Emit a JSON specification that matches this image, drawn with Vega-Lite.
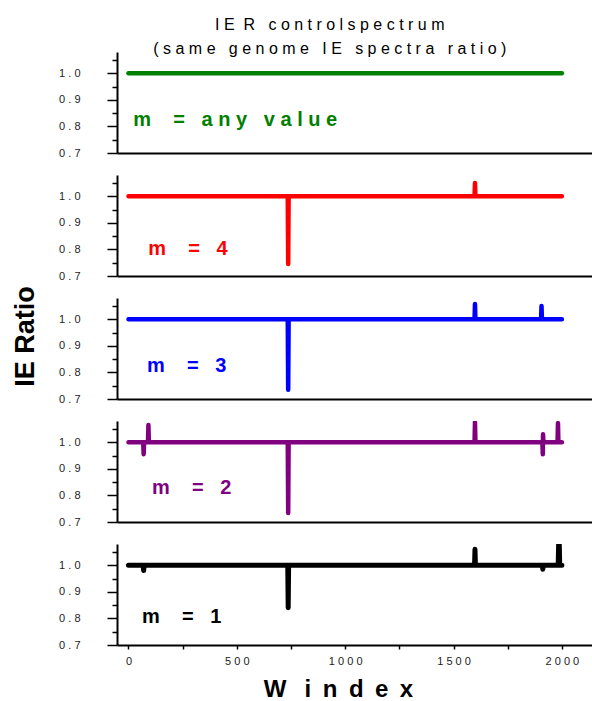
{
  "$schema": "https://vega.github.io/schema/vega-lite/v6.json",
  "padding": {"left": 11, "top": 17, "right": 0, "bottom": 0},
  "title": {
    "text": ["I E \u00a0R \u00a0\u00a0c o n t r o l s p e c t r u m\u00a0\u00a0\u00a0\u00a0", "( s a m e \u00a0\u00a0g e n o m e \u00a0\u00a0I E \u00a0\u00a0s p e c t r a \u00a0\u00a0r a t i o )"],
    "font": "Liberation Sans", "fontSize": 16, "fontWeight": "normal", "color": "black",
    "anchor": "middle", "lineHeight": 24, "offset": -5, "dx": 28
  },
  "bounds": "flush",
  "spacing": 22,
  "datasets": {
    "lines": [
      {"p": "g", "x": 0, "y": 1}, {"p": "g", "x": 2000, "y": 1},
      {"p": "r", "x": 0, "y": 1}, {"p": "r", "x": 735, "y": 1}, {"p": "r", "x": 737, "y": 0.745}, {"p": "r", "x": 739, "y": 1},
      {"p": "r", "x": 1597, "y": 1}, {"p": "r", "x": 1599, "y": 1.05}, {"p": "r", "x": 1601, "y": 1}, {"p": "r", "x": 2000, "y": 1},
      {"p": "b", "x": 0, "y": 1}, {"p": "b", "x": 735, "y": 1}, {"p": "b", "x": 737, "y": 0.735}, {"p": "b", "x": 739, "y": 1},
      {"p": "b", "x": 1597, "y": 1}, {"p": "b", "x": 1599, "y": 1.057}, {"p": "b", "x": 1601, "y": 1},
      {"p": "b", "x": 1904, "y": 1}, {"p": "b", "x": 1906, "y": 1.05}, {"p": "b", "x": 1908, "y": 1}, {"p": "b", "x": 2000, "y": 1},
      {"p": "p", "x": 0, "y": 1}, {"p": "p", "x": 68, "y": 1}, {"p": "p", "x": 70, "y": 0.955}, {"p": "p", "x": 72, "y": 1},
      {"p": "p", "x": 90, "y": 1}, {"p": "p", "x": 92, "y": 1.065}, {"p": "p", "x": 94, "y": 1},
      {"p": "p", "x": 735, "y": 1}, {"p": "p", "x": 737, "y": 0.734}, {"p": "p", "x": 739, "y": 1},
      {"p": "p", "x": 1597, "y": 1}, {"p": "p", "x": 1599, "y": 1.076}, {"p": "p", "x": 1601, "y": 1},
      {"p": "p", "x": 1910, "y": 1}, {"p": "p", "x": 1912, "y": 0.955}, {"p": "p", "x": 1913, "y": 1.03}, {"p": "p", "x": 1915, "y": 1},
      {"p": "p", "x": 1980, "y": 1}, {"p": "p", "x": 1982, "y": 1.072}, {"p": "p", "x": 1984, "y": 1}, {"p": "p", "x": 2000, "y": 1},
      {"p": "k", "x": 0, "y": 1}, {"p": "k", "x": 68, "y": 1}, {"p": "k", "x": 70, "y": 0.98}, {"p": "k", "x": 72, "y": 1},
      {"p": "k", "x": 735, "y": 1}, {"p": "k", "x": 737, "y": 0.84}, {"p": "k", "x": 739, "y": 1},
      {"p": "k", "x": 1597, "y": 1}, {"p": "k", "x": 1599, "y": 1.06}, {"p": "k", "x": 1601, "y": 1},
      {"p": "k", "x": 1910, "y": 1}, {"p": "k", "x": 1912, "y": 0.985}, {"p": "k", "x": 1914, "y": 1},
      {"p": "k", "x": 1983, "y": 1}, {"p": "k", "x": 1985, "y": 1.078}, {"p": "k", "x": 1987, "y": 1},
      {"p": "k", "x": 1988, "y": 1.078}, {"p": "k", "x": 1990, "y": 1}, {"p": "k", "x": 2000, "y": 1}
    ],
    "labels": [
      {"p": "g", "x": 22, "y": 0.824, "label": "m\u00a0\u00a0\u00a0\u00a0=\u00a0\u00a0\u00a0a n y\u00a0\u00a0\u00a0v a l u e"},
      {"p": "r", "x": 91, "y": 0.802, "label": "m\u00a0\u00a0\u00a0\u00a0=\u00a0\u00a0\u00a04"},
      {"p": "b", "x": 85, "y": 0.824, "label": "m\u00a0\u00a0\u00a0\u00a0=\u00a0\u00a0\u00a03"},
      {"p": "p", "x": 108, "y": 0.828, "label": "m\u00a0\u00a0\u00a0\u00a0=\u00a0\u00a0\u00a02"},
      {"p": "k", "x": 62, "y": 0.805, "label": "m\u00a0\u00a0\u00a0\u00a0=\u00a0\u00a0\u00a01"}
    ]
  },
  "config": {
    "view": {"stroke": null},
    "axis": {"grid": false, "domainColor": "black", "domainWidth": 2, "tickColor": "black", "tickWidth": 1.5,
      "labelFont": "Liberation Sans", "labelFontSize": 11, "labelColor": "#222"},
    "text": {"font": "Liberation Sans", "fontSize": 20, "fontWeight": "bold", "align": "left", "baseline": "middle"}
  },
  "vconcat": [
    {
      "width": 475, "height": 101,
      "encoding": {
        "x": {"field": "x", "type": "quantitative", "scale": {"domain": [-53, 2139], "nice": false, "zero": false},
          "axis": {"title": null, "labels": false, "ticks": false}},
        "y": {"field": "y", "type": "quantitative", "scale": {"domain": [0.7, 1.08], "nice": false, "zero": false},
          "axis": {"title": null, "values": [0.7, 0.75, 0.8, 0.85, 0.9, 0.95, 1.0, 1.05],
            "tickSize": {"condition": {"test": "round(datum.value*100) % 10 == 0", "value": 10}, "value": 5},
            "labelPadding": 27,
            "labelExpr": "round(datum.value*100) % 10 == 0 && datum.value < 1.01 ? replace(format(datum.value, '.1f'), '.', '\u00a0.\u00a0') : ''"}}
      },
      "layer": [
        {"data": {"name": "lines"}, "transform": [{"filter": "datum.p == 'g'"}],
          "mark": {"type": "line", "color": "#008000", "strokeWidth": 4.5, "strokeCap": "round", "strokeJoin": "round", "clip": true}},
        {"data": {"name": "labels"}, "transform": [{"filter": "datum.p == 'g'"}],
          "mark": {"type": "text", "color": "#008000"}, "encoding": {"text": {"field": "label"}}}
      ]
    },
    {
      "width": 475, "height": 101,
      "encoding": {
        "x": {"field": "x", "type": "quantitative", "scale": {"domain": [-53, 2139], "nice": false, "zero": false},
          "axis": {"title": null, "labels": false, "ticks": false}},
        "y": {"field": "y", "type": "quantitative", "scale": {"domain": [0.7, 1.08], "nice": false, "zero": false},
          "axis": {"title": null, "values": [0.7, 0.75, 0.8, 0.85, 0.9, 0.95, 1.0, 1.05],
            "tickSize": {"condition": {"test": "round(datum.value*100) % 10 == 0", "value": 10}, "value": 5},
            "labelPadding": 27,
            "labelExpr": "round(datum.value*100) % 10 == 0 && datum.value < 1.01 ? replace(format(datum.value, '.1f'), '.', '\u00a0.\u00a0') : ''"}}
      },
      "layer": [
        {"data": {"name": "lines"}, "transform": [{"filter": "datum.p == 'r'"}],
          "mark": {"type": "line", "color": "#ff0000", "strokeWidth": 4.5, "strokeCap": "round", "strokeJoin": "round", "clip": true}},
        {"data": {"name": "labels"}, "transform": [{"filter": "datum.p == 'r'"}],
          "mark": {"type": "text", "color": "#ff0000"}, "encoding": {"text": {"field": "label"}}}
      ]
    },
    {
      "width": 475, "height": 101,
      "encoding": {
        "x": {"field": "x", "type": "quantitative", "scale": {"domain": [-53, 2139], "nice": false, "zero": false},
          "axis": {"title": null, "labels": false, "ticks": false}},
        "y": {"field": "y", "type": "quantitative", "scale": {"domain": [0.7, 1.08], "nice": false, "zero": false},
          "axis": {"title": "IE Ratio", "titleFont": "Liberation Sans", "titleFontSize": 27, "titleFontWeight": "bold", "titleColor": "black",
            "titlePadding": 19, "titleY": 38,
            "values": [0.7, 0.75, 0.8, 0.85, 0.9, 0.95, 1.0, 1.05],
            "tickSize": {"condition": {"test": "round(datum.value*100) % 10 == 0", "value": 10}, "value": 5},
            "labelPadding": 27,
            "labelExpr": "round(datum.value*100) % 10 == 0 && datum.value < 1.01 ? replace(format(datum.value, '.1f'), '.', '\u00a0.\u00a0') : ''"}}
      },
      "layer": [
        {"data": {"name": "lines"}, "transform": [{"filter": "datum.p == 'b'"}],
          "mark": {"type": "line", "color": "#0000ff", "strokeWidth": 4.5, "strokeCap": "round", "strokeJoin": "round", "clip": true}},
        {"data": {"name": "labels"}, "transform": [{"filter": "datum.p == 'b'"}],
          "mark": {"type": "text", "color": "#0000ff"}, "encoding": {"text": {"field": "label"}}}
      ]
    },
    {
      "width": 475, "height": 101,
      "encoding": {
        "x": {"field": "x", "type": "quantitative", "scale": {"domain": [-53, 2139], "nice": false, "zero": false},
          "axis": {"title": null, "labels": false, "ticks": false}},
        "y": {"field": "y", "type": "quantitative", "scale": {"domain": [0.7, 1.08], "nice": false, "zero": false},
          "axis": {"title": null, "values": [0.7, 0.75, 0.8, 0.85, 0.9, 0.95, 1.0, 1.05],
            "tickSize": {"condition": {"test": "round(datum.value*100) % 10 == 0", "value": 10}, "value": 5},
            "labelPadding": 27,
            "labelExpr": "round(datum.value*100) % 10 == 0 && datum.value < 1.01 ? replace(format(datum.value, '.1f'), '.', '\u00a0.\u00a0') : ''"}}
      },
      "layer": [
        {"data": {"name": "lines"}, "transform": [{"filter": "datum.p == 'p'"}],
          "mark": {"type": "line", "color": "#800080", "strokeWidth": 4.5, "strokeCap": "round", "strokeJoin": "round", "clip": true}},
        {"data": {"name": "labels"}, "transform": [{"filter": "datum.p == 'p'"}],
          "mark": {"type": "text", "color": "#800080"}, "encoding": {"text": {"field": "label"}}}
      ]
    },
    {
      "width": 475, "height": 101,
      "encoding": {
        "x": {"field": "x", "type": "quantitative", "scale": {"domain": [-53, 2139], "nice": false, "zero": false},
          "axis": {"title": "W\u00a0\u00a0\u2009i\u00a0\u2009n\u00a0\u2009d\u00a0\u2009e\u00a0\u2009x", "titleFont": "Liberation Sans", "titleFontSize": 24, "titleFontWeight": "bold", "titleColor": "black",
            "titleX": 221, "titlePadding": 11,
            "values": [0, 250, 500, 750, 1000, 1250, 1500, 1750, 2000], "tickSize": 4, "labelPadding": 6,
            "labelExpr": "datum.value % 500 == 0 ? join(split(format(datum.value, 'd'), ''), '\u00a0') : ''"}},
        "y": {"field": "y", "type": "quantitative", "scale": {"domain": [0.7, 1.08], "nice": false, "zero": false},
          "axis": {"title": null, "values": [0.7, 0.75, 0.8, 0.85, 0.9, 0.95, 1.0, 1.05],
            "tickSize": {"condition": {"test": "round(datum.value*100) % 10 == 0", "value": 10}, "value": 5},
            "labelPadding": 27,
            "labelExpr": "round(datum.value*100) % 10 == 0 && datum.value < 1.01 ? replace(format(datum.value, '.1f'), '.', '\u00a0.\u00a0') : ''"}}
      },
      "layer": [
        {"data": {"name": "lines"}, "transform": [{"filter": "datum.p == 'k'"}],
          "mark": {"type": "line", "color": "#000000", "strokeWidth": 5, "strokeCap": "round", "strokeJoin": "round", "clip": true}},
        {"data": {"name": "labels"}, "transform": [{"filter": "datum.p == 'k'"}],
          "mark": {"type": "text", "color": "#000000"}, "encoding": {"text": {"field": "label"}}}
      ]
    }
  ]
}
